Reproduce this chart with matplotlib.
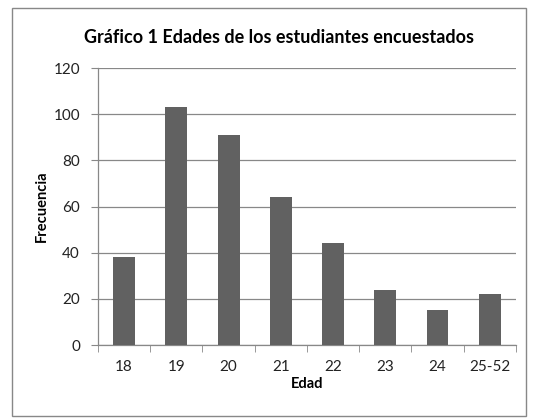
import numpy as np
import matplotlib
matplotlib.use('Agg')
from matplotlib import pyplot as plt
from matplotlib.patches import Rectangle

plt.rcParams['font.family'] = ['Lato', 'DejaVu Sans']

# datos
edades = ['18', '19', '20', '21', '22', '23', '24', '25-52']
frecuencia = [38, 103, 91, 64, 44, 24, 15, 22]

fig = plt.figure(figsize=(5.34, 4.18), dpi=100)
ax = fig.add_axes([0.1835, 0.1746, 0.7825, 0.6624])

x = np.arange(len(edades))
ax.bar(x, frecuencia, width=0.42, color='#616161', zorder=3)

ax.set_xlim(-0.5, len(edades) - 0.5)
ax.set_ylim(0, 120)
ax.set_yticks(np.arange(0, 121, 20))
ax.set_xticks(x)
ax.set_xticklabels(edades)
ax.set_xticks(np.arange(-0.5, len(edades)), minor=True)
ax.tick_params(axis='x', which='major', length=0, pad=11, labelsize=11, colors='#222222')
ax.tick_params(axis='x', which='minor', length=5, color='#888888', direction='out')
ax.tick_params(axis='y', length=5, color='#888888', labelsize=11, colors='#222222', pad=8)
ax.yaxis.grid(True, color='#888888', linewidth=0.9, zorder=0)

for s in ['top', 'right']:
    ax.spines[s].set_visible(False)
for s in ['left', 'bottom']:
    ax.spines[s].set_color('#888888')
    ax.spines[s].set_linewidth(0.9)

ax.set_xlabel('Edad', fontweight='bold', fontsize=10.5, labelpad=2)
ax.set_ylabel('Frecuencia', fontweight='bold', fontsize=10.5, labelpad=3)
fig.text(0.523, 0.911, 'Gráfico 1 Edades de los estudiantes encuestados',
         ha='center', va='center', fontweight='bold', fontsize=13)

# marco exterior
fig.patches.append(Rectangle((12 / 534, 0.005), 514 / 534, 1 - 0.005 - 8 / 418,
                             transform=fig.transFigure, fill=False,
                             edgecolor='#888888', linewidth=1))

fig.savefig('out.png', dpi=100)
